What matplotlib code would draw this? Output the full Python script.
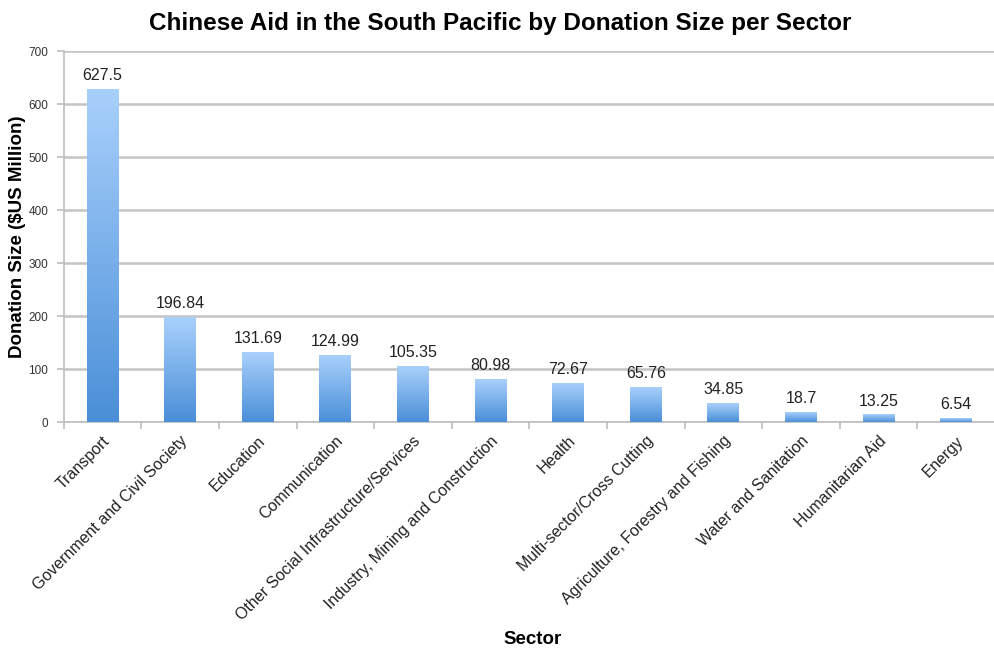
import matplotlib.pyplot as plt
import numpy as np

plt.rcParams['font.family'] = ['Liberation Sans', 'DejaVu Sans']

sectors = ['Transport', 'Government and Civil Society', 'Education', 'Communication',
           'Other Social Infrastructure/Services', 'Industry, Mining and Construction',
           'Health', 'Multi-sector/Cross Cutting', 'Agriculture, Forestry and Fishing',
           'Water and Sanitation', 'Humanitarian Aid', 'Energy']
values = [627.5, 196.84, 131.69, 124.99, 105.35, 80.98, 72.67, 65.76, 34.85, 18.7, 13.25, 6.54]
labels = ['627.5', '196.84', '131.69', '124.99', '105.35', '80.98', '72.67', '65.76',
          '34.85', '18.7', '13.25', '6.54']

fig = plt.figure(figsize=(9.95, 6.59), dpi=100)
ax = fig.add_axes([0.064, 0.3596, 0.936, 0.563])

x = np.arange(len(sectors))
w = 0.41
grad = np.linspace(1, 0, 256).reshape(-1, 1)
cmap = plt.matplotlib.colors.LinearSegmentedColormap.from_list('b', ['#4a8fd8', '#a9d0fc'])

bars = ax.bar(x, values, width=w, color='none', zorder=3)
for b, lab in zip(bars, labels):
    x0 = b.get_x()
    h = b.get_height()
    ax.imshow(grad, extent=[x0, x0 + w, 0, h], aspect='auto', cmap=cmap, zorder=3, origin='upper')
    ax.text(x0 + w / 2, h + 12, lab, ha='center', va='bottom', fontsize=11.5, color='#222222')

ax.set_xlim(-0.5, len(sectors) - 0.5)
ax.set_ylim(0, 700)
ax.set_yticks(range(0, 701, 100))
ax.yaxis.grid(True, color='#c4c4c4', linewidth=1.8, zorder=0)
ax.set_axisbelow(True)

for s in ['top', 'right']:
    ax.spines[s].set_visible(False)
ax.spines['left'].set_color('#bdbdbd')
ax.spines['bottom'].set_color('#bdbdbd')
ax.spines['left'].set_linewidth(1.2)
ax.spines['bottom'].set_linewidth(1.2)

ax.set_xticks(x)
ax.set_xticklabels(sectors, rotation=45, ha='right', rotation_mode='anchor', fontsize=11.5, color='#222222')
ax.tick_params(axis='x', length=0, pad=8)
ax.set_xticks(np.arange(len(sectors) + 1) - 0.5, minor=True)
ax.tick_params(axis='x', which='minor', length=5, color='#bdbdbd', width=1.2)
ax.tick_params(axis='y', length=5, color='#bdbdbd', width=1.2, labelsize=8.5, labelcolor='#333333', pad=6)

fig.text(0.018, 0.64, 'Donation Size ($US Million)', rotation=90, ha='center', va='center',
         fontsize=13.5, fontweight='bold')
fig.text(0.535, 0.017, 'Sector', ha='center', va='bottom', fontsize=13.5, fontweight='bold')
fig.text(0.503, 0.965, 'Chinese Aid in the South Pacific by Donation Size per Sector',
         ha='center', va='center', fontsize=17.5, fontweight='bold')

fig.savefig('out.png', dpi=100)
